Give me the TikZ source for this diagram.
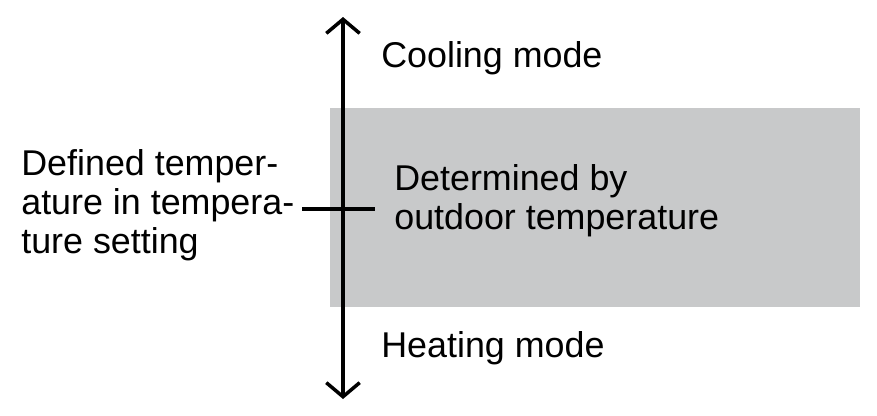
\documentclass[tikz,border=0pt]{standalone}
\usepackage{fontspec}
\setmainfont{Liberation Sans}
\usepackage{xcolor}
\usetikzlibrary{arrows.meta,positioning}
\definecolor{zonegray}{RGB}{200,201,202}

\begin{document}
\begin{tikzpicture}[x=0.02cm,y=-0.02cm,
  font=\fontsize{20.4}{22}\selectfont,
  lbl/.style={inner sep=0pt,anchor=base west,align=left},
  axis/.style={line width=2pt,{Straight Barb[length=8pt,width=19pt,line width=2pt]}-{Straight Barb[length=8pt,width=19pt,line width=2pt]}}]
  \useasboundingbox (0,0) rectangle (877,416);
  % shaded band for the automatic range
  \fill[zonegray] (330,108) rectangle (860,307);
  % vertical axis with tick for the set point
  \coordinate (top) at (343,17);
  \coordinate (bot) at (343,399);
  \coordinate (tickl) at (302,209);
  \coordinate (tickr) at (375,209);
  \draw[axis] (bot) -- (top);
  \draw[line width=2pt] (tickl) -- (tickr);
  % labels (base = last line)
  \node[lbl] (cool) at (381,67) {Cooling mode};
  \node[lbl] (heat) at (381,357) {Heating mode};
  \node[lbl] (auto) at (394,229) {Determined by\\outdoor temperature};
  \node[lbl] (setp) at (21,253) {Defined temper-\\ature in tempera-\\ture setting};
\end{tikzpicture}
\end{document}
